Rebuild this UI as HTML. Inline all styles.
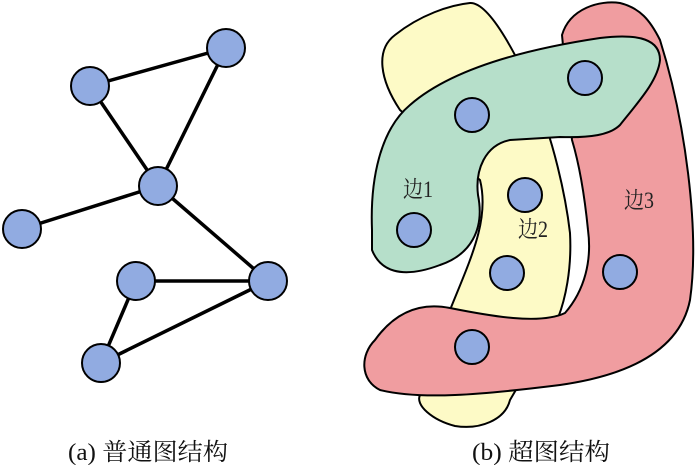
<!DOCTYPE html>
<html><head><meta charset="utf-8"><style>
html,body{margin:0;padding:0;background:#fff;}
svg{display:block;}
text{font-family:"Liberation Serif","Noto Serif CJK SC",serif;}
</style></head><body>
<svg width="700" height="465" viewBox="0 0 700 465" xmlns="http://www.w3.org/2000/svg">
<g stroke="#000" stroke-width="3.5">
<line x1="90" y1="86" x2="226" y2="48"/>
<line x1="226" y1="48" x2="158" y2="186"/>
<line x1="90" y1="86" x2="158" y2="186"/>
<line x1="158" y1="186" x2="22" y2="229"/>
<line x1="158" y1="186" x2="268" y2="281"/>
<line x1="136" y1="281" x2="268" y2="281"/>
<line x1="136" y1="281" x2="101" y2="363"/>
<line x1="101" y1="363" x2="268" y2="281"/>
</g>
<g fill="#91abe1" stroke="#000" stroke-width="2">
<circle cx="226" cy="48" r="19"/><circle cx="90" cy="86" r="19"/><circle cx="158" cy="186" r="19"/>
<circle cx="22" cy="229" r="19"/><circle cx="136" cy="281" r="19"/><circle cx="268" cy="281" r="19"/>
<circle cx="101" cy="363" r="19"/>
</g>
<g stroke="#000" stroke-width="2">
<path fill="#fdfac6" d="M400,110 C380,80 375,50 395,35 C420,15 450,5 470,3 C490,2 520,60 540,110 C552,140 565,190 570,233 C572,270 565,300 558,318 L510,400 C505,420 480,430 455,426 C432,420 415,405 420,395 L450,310 C470,260 490,220 480,180 Z"/>
<path fill="#f09da0" d="M565,313 C585,290 592,260 588,230 C584,190 578,160 572,140 L562,35 C570,8 600,0 620,3 C640,8 650,20 660,40 C685,120 700,230 690,300 C680,350 630,375 560,385 C480,395 420,400 380,390 C360,380 360,355 375,340 C395,312 420,302 450,308 C490,316 540,325 565,313 Z"/>
<path fill="#b6dfca" d="M372,230 C370,180 380,130 410,105 C450,70 520,50 600,38 C640,33 660,40 660,60 C658,80 640,100 620,125 C610,135 590,138 560,137 L510,140 C485,145 475,170 478,195 C485,230 470,255 440,265 C400,280 380,270 372,250 Z"/>
</g>
<g fill="#91abe1" stroke="#000" stroke-width="2">
<circle cx="585" cy="78" r="17"/><circle cx="472" cy="115" r="17"/><circle cx="525" cy="195" r="17"/>
<circle cx="414" cy="230" r="17"/><circle cx="507" cy="273" r="17"/><circle cx="620" cy="272" r="17"/>
<circle cx="472" cy="347" r="17"/>
</g>
<g font-size="23" fill="#222">
<text x="403" y="197" textLength="30" lengthAdjust="spacingAndGlyphs">边1</text>
<text x="518" y="237" textLength="30" lengthAdjust="spacingAndGlyphs">边2</text>
<text x="624" y="208" textLength="30" lengthAdjust="spacingAndGlyphs">边3</text>
</g>
<g font-size="24" fill="#111">
<text x="68" y="460" textLength="160" lengthAdjust="spacingAndGlyphs">(a)  普通图结构</text>
<text x="472" y="460" textLength="138" lengthAdjust="spacingAndGlyphs">(b)  超图结构</text>
</g>
</svg>
</body></html>
